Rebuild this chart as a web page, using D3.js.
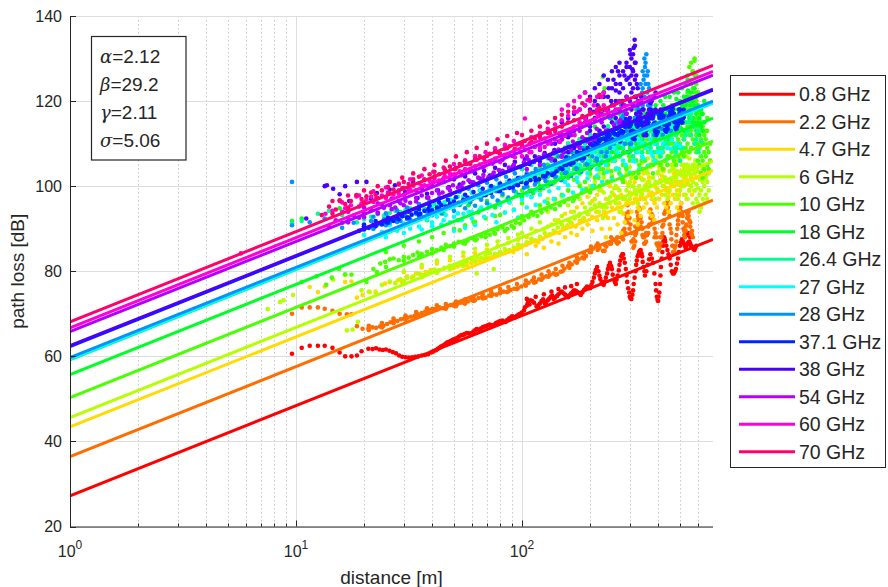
<!DOCTYPE html>
<html><head><meta charset="utf-8">
<script src="https://cdn.jsdelivr.net/npm/d3@7"></script>
<style>body{margin:0;background:#fff}svg{display:block}text{font-family:"Liberation Sans",Arial,Helvetica,sans-serif;fill:#262626}</style>
</head><body><svg id="c" width="888" height="587"></svg>
<script>
const freqLabels = ["0.8 GHz","2.2 GHz","4.7 GHz","6 GHz","10 GHz","18 GHz","26.4 GHz","27 GHz","28 GHz","37.1 GHz","38 GHz","54 GHz","60 GHz","70 GHz"];
const colors = ["#ff0000","#ff6d00","#ffdb00","#b6ff00","#49ff00","#00ff24","#00ff92","#00ffff","#0092ff","#0024ff","#4900ff","#b600ff","#ff00db","#ff006d"];
const lineAt1m = [27.2,36.4,43.4,45.6,50.3,55.7,59.2,59.4,59.7,62.3,62.5,65.8,66.7,68.1];
const lineAt700m = [87.5,96.7,103.7,105.9,110.6,116.0,119.5,119.7,120.0,122.6,122.8,126.1,127.0,128.4];
const yTicks = [20,40,60,80,100,120,140];
const xMajorTicks = [1,10,100];
const xTickExp = ["0","1","2"];
const paramNames = ["α","β","γ","σ"];
const paramValues = ["=2.12","=29.2","=2.11","=5.06"];

// measured points [distance, path loss]
const pts08 = [[9.6,60.6],[10.6,62],[11.5,62.5],[12.5,62.5],[13.4,62.5],[14.5,62],[15.6,60.9],[16.5,60],[17.6,60],[18.6,60.2],[19.5,61.2],[20.9,61.8],[21.8,61.7],[22.6,61.9],[23.4,61.6],[24.2,61.5],[25,61.6],[25.9,61.3],[26.8,61.0],[27.7,60.7],[28.6,60.2],[29.5,59.9],[30.5,59.8],[31.5,59.7],[32.6,59.8],[33.7,59.9],[34.8,60],[36,60.2],[37.2,60.3],[38.4,60.5],[39.7,60.9],[41,61.3],[42.4,61.8],[43.8,62.3],[45.3,62.7],[46.8,63.3],[48.4,63.6],[50,64],[51.7,64.3],[53.4,64.9],[55.2,65.1],[57,65.5],[59,65.3],[61,65.8],[63,66.4],[65,66.2],[67.2,66.9],[69.5,67.1],[71.8,67.5],[74.2,67.2],[76.7,67.8],[79.2,68.2],[81.9,68.4],[84.6,68.1],[87.5,68.9],[90.4,69.4],[93.4,69.2],[96.5,69.8],[99.8,70.3],[103,71.5],[106,72.5],[109,73.2],[113,72.6],[116,71.8],[120,72.4],[124,73.4],[128,72.8],[132,73.6],[136,74.3],[140,73.8],[145,74.6],[150,75.2],[155,74.5],[160,73.9],[165,74.8],[170,75.5],[176,75.1],[182,74.4],[188,75.6],[194,76.4],[200,76],[205,77.5],[210,79.5],[215,81],[220,79],[225,77.5],[230,76.8],[235,78.5],[240,80.5],[245,82],[250,80.5],[255,78],[260,77],[265,79],[270,81.5],[275,83.5],[280,84],[285,82],[290,79],[295,76],[300,74],[305,73.5],[310,75.5],[315,78.5],[320,81.5],[325,83.5],[330,84.5],[335,85],[340,83.5],[345,81],[350,79],[360,81.5],[370,84],[380,82],[390,77],[395,74],[400,73],[405,75],[410,79],[415,83],[420,86],[425,88],[430,87],[440,85],[450,83],[460,80],[470,79.5],[480,80.5],[490,83],[500,86],[510,87.5],[520,86.5],[530,85.5],[540,86.5],[550,87],[560,86],[570,85.5],[580,85],[590,86]];
const cols08 = [[40.3,61.1],[41.7,61.5],[43.1,62],[44.5,62.5],[46,63],[47.6,63.4],[49.2,63.8],[50.8,64.1],[52.5,64.6],[54.3,65],[56,65.3],[58,65.4],[60,65.5],[62,66.1],[64,66.3],[66,66.6],[68.3,67],[70.6,67.3],[73,67.3],[75.4,67.5],[78,68],[80.5,68.3],[83.2,68.2],[86,68.5],[89,69.1],[91.9,69.3],[95,69.5],[98.1,70],[102,70.8],[105,71.9,73.5],[108,72.2],[111,73],[115,74],[118,72],[122,73],[125,74.6],[126,72.5],[130,73.2],[134,74],[135,75.2],[138,73.5],[143,74.2],[145,75.8],[148,75],[153,74.8],[155,76.2],[158,74.2],[163,74.4],[165,76.5],[168,75.2],[173,75.4],[175,77],[179,74.8],[185,75],[191,76],[197,76.2],[203,76.8],[208,78.5],[212,80.3],[218,80],[222,78.2],[228,77],[233,77.6],[238,79.5],[242,81.3],[248,81.2],[252,79.2],[258,77.4],[262,78],[268,80.2],[272,82.5],[278,84],[282,83],[288,80.5],[292,77.5],[298,75],[302,73.6],[308,74.5],[312,77],[318,80],[322,82.5],[328,84],[332,84.8],[338,84.2],[342,82.2],[348,80],[355,80],[365,82.8],[375,83],[385,79.5],[392,75.5],[398,73.3],[402,74],[408,77],[412,81],[418,84.5],[422,87],[428,87.5],[435,86],[445,84],[455,81.5],[465,79.5],[475,80],[485,81.8],[495,84.5],[505,86.8],[515,87],[525,86],[535,86,88.5],[545,86.8,89],[555,86.5,88],[565,85.8],[575,85.2],[585,85.5]];
const pts22 = [[9.6,70],[10.6,71.5],[11.5,71.5],[12.5,71.5],[13.4,71.2],[14.5,70.7],[15.6,70],[16.8,69.9],[17.6,69.9],[18.6,67.1],[19.7,66.5],[20.9,66.5],[21.8,66.8],[22.6,66.7],[23.5,67],[24.4,67.2],[25.3,67.6],[26.2,68],[27.1,68.4],[28.1,68.3],[29.1,68.7],[30.1,68.9],[31.2,69.1],[32.3,69.3],[33.5,69.5],[34.7,69.9],[36,70.2],[37.3,70.5],[38.7,70.9],[40.1,71.2],[41.6,71.2],[43.1,71.5],[44.7,71.3],[46.4,71.6],[48.1,72],[49.9,71.9],[51.7,72.3],[53.6,72.6],[55.6,72.5],[57.6,72.9],[59.7,73.3],[61.9,73.2],[64.2,73.7],[66.6,74],[69,73.8],[71.6,74.3],[74.2,74.6],[77,74.5],[79.8,75],[82.8,75.2],[85.8,75.1],[89,75.6],[92.3,75.9],[95.7,76],[99.2,76.4],[103,76.9],[107,77.3],[111,77.8],[115,77.5],[119,78.1],[124,78.5],[128,78.8],[133,79.2],[138,79.5],[143,79.3],[148,79.9],[154,80.6],[160,81.2],[166,81.6],[172,82.3],[178,82.8],[185,83.2],[192,83.6],[199,84.5],[206,85.3],[213,85.9],[220,85.5],[228,84.8],[236,85.8],[244,86.5],[252,87.5],[260,87],[268,86.8],[276,88],[284,90],[290,92.5],[296,94],[302,91],[308,87],[314,86],[320,89],[326,93],[332,94.5],[338,91.5],[344,88],[350,86.5],[358,88.5],[366,91],[374,93.5],[382,92],[390,89],[398,86],[406,85.5],[414,88],[422,91],[430,94],[438,96],[446,94],[454,90],[462,86],[470,84],[478,86],[486,90],[494,93],[502,95],[510,93.5],[518,90],[526,88],[534,91],[542,94],[550,92],[560,89],[570,88]];
const cols22 = [[21,66.2,67.2],[24,66.8,67.8],[27,67.8,68.9],[30.5,68.6,69.6],[34,69.3,70.4],[38,70.3,71.3],[42,71,72],[46,71.2,72.3],[51,71.8,72.9],[56,72.4,73.4],[61,73,74],[67,73.6,74.6],[73,74.2,75.2],[80,74.8,75.8],[87,75.3,76.3],[95,75.8,77],[104,76.6,77.8],[113,77.3,78.5],[122,78,79.2],[131,78.7,80],[141,79.2,80.5],[151,80,81.3],[162,80.8,82],[175,82,83.2],[188,83,84.2],[202,84.5,85.8],[216,85,86.5],[232,84.8,86.2],[248,86.5,88],[264,86.5,88],[280,87.5,89.5],[287,89,91.5,93.5],[293,91.5,93.5,95.5],[299,90,92.5],[305,87,89],[311,85.5,87.5],[317,87,88.5,90.5],[323,90,92,94],[329,92.5,95],[335,90.5,92.5],[341,88.5,90],[347,86.5,88],[354,87,89],[362,89,90.5],[370,91,92.5,94.5],[378,91.5,93],[386,88,90],[394,86.5,88],[402,85,86.5],[410,86.5,88],[418,89,90.5],[426,92,93.5],[434,94.5,96],[442,95,96.5],[450,91,93],[458,87.5,89],[466,84.5,86],[474,84.5,85.5],[482,87,88.5],[490,91,92],[498,93.5,94.5],[506,94,96],[514,91.5,93],[522,88.5,89.5],[530,89.5,90.5],[538,92.5,93.5],[546,93,94],[555,90.5,91.5],[565,88.5,89.5]];
const pts47 = [[11.5,76.3],[12.5,75.1],[13.4,76.4],[16.5,77.5],[17.6,77.6],[18.6,73.8],[19.7,74.4],[21.2,75.1],[22.5,75.2],[24.8,77.1],[26,77.4],[28.3,77.9],[29.5,77.4],[31,78.8],[32.5,78.5],[34,79.5],[35.8,79.2],[37.5,79.8],[39.4,80.3],[41.3,80],[43,80.2],[45.2,80.6],[47.4,80.9],[49.7,80.7],[52,81.1],[54.5,81.3],[57,81.4],[59.6,81.9],[62.3,82.2],[65,82.6],[68,82.9],[71,83.1],[74,83.4],[77.3,83.9],[80.7,84.2],[84.2,84.3],[87.8,84.8],[91.5,84.5],[95.4,85.2],[99.5,85.6],[104,86.2],[108,86.7],[113,87.2],[118,86.8],[123,87.6],[128,88.3],[134,88.7],[140,89.4],[146,89],[152,90.1],[159,90.8],[166,91.2],[173,90.5],[180,91.8],[188,92.5],[196,93.4],[204,92.8],[213,94],[222,95.2],[231,94],[240,92.5],[250,95],[260,97.5],[270,96],[280,93.5],[290,96],[300,98.5],[310,100],[320,97],[330,94.5],[340,97],[350,99.5],[362,101],[374,98.5],[386,96],[398,99],[410,101.5],[422,103.5],[434,101],[446,98.5],[458,101],[470,103],[482,100.5],[494,98],[506,101],[518,103.5],[530,102],[545,100.5],[560,102.5],[575,104],[590,102]];
const cols47 = [[30,77.8,79.8],[36,79,80.9],[42,80,81.8],[48,80.8,82.6],[55,81.6,83.5],[62,82.5,84.3],[70,83.3,85.1],[78,84,85.9],[87,84.8,86.7],[96,85.5,87.4],[105,84,88],[115,86,89.5],[125,85.5,90],[135,87,91],[145,86.5,92],[155,88,93.5],[165,89,94],[175,88.5,95],[185,90,96],[195,91,97.5],[205,89.5,96.5],[215,92,98],[225,90,95.5,99],[235,88,93,97],[245,90,96,100],[255,92.5,98],[265,91,95,99.5],[275,89,94,98],[285,91.5,97,101],[295,93,96.5,100.5],[305,94,98,102],[315,92,97,101],[325,91,95,99],[335,93,97.5,102],[345,95,99,103],[355,96,100.5,104],[365,94,98,102],[375,93,97],[385,92,96.5,100],[395,95,99.5],[405,97,101,104.5],[415,98,102.5],[425,96,100,104],[435,95,99],[445,94,97.5,101],[455,96,100.5],[465,98,102,105],[475,97,101],[485,95,99,103],[495,94,98],[505,96,100,103.5],[520,98,102],[535,97,100.5,104],[550,99,103],[565,98,101.5],[580,99,103,105]];
const pts6 = [[7.5,71.1],[8.5,72.8],[8.8,73.2],[9.7,74.4],[14.6,78],[16.5,79.1],[16.8,66.1],[17.8,66.3],[18.8,68.1],[19.5,75.5],[21,75.2],[22.6,74.8],[24,76.8],[26,77.6],[27.5,77.2],[29,78.1],[31,78.4],[33,78.8],[35,79.4],[37,79.1],[39,79.8],[41,80.4],[43,80.2],[45.5,80.8],[48,81.3],[50.5,81.1],[53,81.7],[55,82.2],[57,82.2],[60,82.9],[63,79.5],[63,83.3],[66,83.1],[69,83.8],[72,84.2],[75,80.5],[76,84.1],[80,84.6],[84,85.2],[88,85],[92,85.6],[96,86.3],[100,86.1],[105,86.8],[110,87.6],[115,87.2],[120,88.1],[126,89],[132,88.6],[138,89.5],[144,90.3],[150,91],[157,90.4],[164,91.5],[171,92.4],[178,93],[186,92.2],[194,93.5],[202,94.6],[210,95.5],[219,94],[228,92.5],[237,95],[246,97.5],[256,99.5],[266,97.5],[276,95],[286,97],[296,100],[306,102],[316,99],[326,96],[336,98.5],[346,101.5],[356,103.5],[366,101],[378,98],[390,100.5],[402,103.5],[414,105],[426,102],[438,99.5],[450,101.5],[462,104],[474,106],[486,103.5],[498,100.5],[510,102.5],[522,105],[534,107],[546,104.5],[558,102],[570,104],[585,106],[600,103.5],[615,101.5],[630,104]];
const cols6 = [[30,77.5,80],[36,78.6,81.5],[42,79.6,82.5],[48,80.5,83.4],[55,81.3,84.4],[62,82.2,85.3],[70,83,86.2],[78,83.8,87],[87,84.6,87.8],[96,85.4,88.6],[100,89,92],[110,90,93.5],[120,91.5,95],[130,90.5,94,97],[140,92,96],[150,93,97.5],[160,92,95.5,99],[170,94,98],[180,93.5,97,100.5],[190,95,99],[200,96,100,102.5],[210,97,101],[220,96,99,103],[230,95,98.5,102],[240,97,101,104],[250,98.5,102.5],[260,96,100,104],[270,94,99,103],[280,97,101.5,105],[290,99,103],[300,97,101,104.5],[310,96,100,103],[320,98,102,106],[330,100,104],[340,98,101.5,105.5],[350,97,100,104],[360,99,103,106.5],[370,100,104.5],[380,98,102,106],[390,97,101],[400,99,103,107],[410,101,105],[420,100,104,108],[430,98,102,106],[440,97,101,105],[450,99,103.5],[460,101,105,108.5],[470,100,104],[480,98,102,106],[490,97,101],[500,99,103,107],[510,101,105],[520,100,104,108],[530,98,102.5],[540,97,101,105],[550,99,103,106.5],[560,100,104],[570,96,101,105],[580,95,99,103],[590,97,100.5,104.5],[600,96,99.5],[610,94,98,102],[620,95,99,103],[630,97,101],[640,96,100,104],[650,98,102],[660,97,101],[670,99,103]];
const pts10 = [[10.6,77.5],[12.3,78.8],[13.6,76.8],[14.4,78.5],[15.5,80.5],[16.5,79.3],[17.6,79.2],[20.5,77.5],[22,80.5],[22.8,79.8],[23.6,81.8],[24.8,82.2],[26,82.8],[27,83],[28.5,82.6],[30,83.4],[31.5,83.2],[33,83.8],[34.5,84.4],[36,84.1],[38,84.6],[40,85.2],[42,85],[44,85.6],[46,86.2],[48,85.9],[50,86.5],[53,89.6],[52.5,86.9],[55,86.6],[57.5,87.2],[60,87.8],[61,91.6],[63,87.5],[66,88.2],[69,88.9],[72,88.6],[75,89.2],[78,89.9],[80,93.2],[82,90.3],[86,90],[90,90.7],[94,91.4],[98,91.2],[102,92],[107,92.7],[112,93.3],[117,93],[122,93.8],[128,94.5],[134,95],[140,94.6],[147,95.5],[154,96.3],[161,97],[168,96.5],[176,97.5],[184,98.5],[192,99.3],[200,98.5],[209,100],[218,102],[228,104],[228,125.7],[232,123],[225,118],[238,101],[248,103.5],[258,106],[268,104],[278,101.5],[288,104.5],[298,107],[308,109],[318,106],[328,103],[338,106],[348,109],[358,111],[368,108],[380,105],[392,108],[404,111],[416,113],[428,110],[440,107],[452,110],[464,113],[476,115.5],[488,112.5],[500,109],[512,112],[524,115],[536,118],[548,121],[560,124],[570,127],[580,129.5],[590,126],[600,122],[610,118],[620,114],[632,110],[645,113],[660,116]];
const cols10 = [[25,81,84.5],[30,82.5,86],[35,83.5,87],[40,84.2,88],[45,85,89],[50,85.8,90],[56,86.5,90.8],[62,87.3,91.6],[69,88,92.4],[76,88.8,93],[84,89.5,93.8],[92,90.2,94.5],[100,93,96,99],[110,94,97.5],[120,95.5,99,102],[130,96,100],[140,97,101,104],[150,98,102],[160,99,103,106],[170,97,101.5,105],[180,100,104],[190,101,105,108],[200,99,103,107],[210,102,106],[220,100,104,108,112],[230,103,107,117,121],[240,101,105,109],[250,102,106,110],[260,104,108,112],[270,103,107,111],[280,101,105,109],[290,104,108,112],[300,106,110],[310,103,107,111],[320,102,106,110],[330,105,109,113],[340,104,108],[350,106,110,114],[360,108,112],[370,105,109,113],[380,103,107,111],[390,106,110,114],[400,108,112],[410,105,109,113],[420,104,108,112],[430,106,110,115],[440,105,109],[450,107,111,115],[460,108,112,116],[470,106,110,114],[480,105,109,113],[490,107,111,115],[500,106,110,114,118],[510,108,112,116],[520,107,111,115,119],[530,109,113,117,121],[540,110,114,118,122,126],[550,108,112,116,120,124,128],[560,109,113,117,121,125,129],[570,111,115,119,123,127],[580,110,114,118,122,126,130],[590,108,112,116,120,124],[600,106,110,114,118,122],[610,105,109,113,117],[620,103,107,111,115],[630,102,106,110,114],[640,104,108,112],[650,103,107,111],[660,105,109,113],[670,104,108],[680,106,110]];
const pts18 = [[9.6,91.8],[10.6,92.4],[15.6,94.8],[17.2,94.5],[20,92.8],[38,92],[45,93.5],[52,92],[58,95.5],[64,93.8],[70,96.5],[76,95],[82,97.8],[88,96.2],[94,98.6],[100,97.5],[106,99.8],[112,98.4],[118,101],[124,99.5],[130,102.2],[137,100.6],[144,103.5],[151,101.8],[158,104.8],[166,103],[174,106],[182,104.2],[190,107.5],[198,105.5],[207,109],[216,107],[225,111],[234,108.5],[243,113],[252,110],[262,115],[272,112],[282,117],[292,113.5],[302,110],[312,114],[322,118],[332,115],[342,111],[352,114.5],[362,117.5],[374,114],[386,110.5],[398,113],[410,116.5],[422,119],[434,115.5],[446,112],[458,115],[470,118],[482,120.5],[494,117],[506,113.5],[518,116],[530,119.5],[542,122.5],[554,119],[566,115],[578,118],[590,121],[602,118],[614,114.5],[626,117],[640,120]];
const cols18 = [[110,99,103],[120,100,104.5],[130,101,105],[140,102,106.5],[150,103,107],[160,102,106,110],[170,104,108],[180,103,107,111],[190,105,109],[200,104,108,112],[210,106,110,114],[220,105,109,113,118],[230,107,111,116,122],[240,106,110,114],[250,108,112,116],[260,107,111,115],[270,109,113,117],[280,108,112,116],[290,110,114,118],[300,109,113],[310,111,115,119],[320,110,114,118],[330,112,116],[340,111,115,119],[350,113,117],[360,112,116,120],[370,110,114,118],[380,112,116],[390,111,115,119],[400,113,117],[410,112,116,120],[420,114,118],[430,113,117,121],[440,111,115],[450,113,117,121],[460,115,119],[470,114,118,122],[480,112,116],[490,114,118,122],[500,116,120],[510,115,119,123],[520,113,117,121],[530,115,119,124],[540,117,121,125],[550,116,120],[560,114,118,122],[570,116,120],[580,115,119,123],[590,113,117],[600,115,119],[610,112,116],[620,114,118],[630,113,117],[640,115,119]];
const pts264 = [[9.6,91.2],[10.6,91.8],[12.5,93.5],[14,94.2],[16,93.2],[18.6,91.5],[20,92.2],[21.5,92.8],[23,93.4],[24.5,93.1],[26,93.7],[27.5,94.2],[29,93.9],[30.5,94.4],[32,94.8],[33.5,94.5],[35,95],[37,94.7],[39,95.3],[41,95.8],[43,95.5],[45.5,96.2],[48,96.8],[52,97.5],[56,97],[60,98.4],[65,99],[70,98.5],[75,99.8],[80,100.5],[86,100],[92,101.4],[98,102],[105,101.5],[112,103],[120,103.8],[128,103.2],[136,104.5],[145,105.2],[155,104.6],[165,106],[175,107],[186,106.2],[198,107.8],[210,109],[222,108],[235,110],[248,111.5],[262,109.5],[276,112],[290,114],[305,111],[320,108],[335,111],[350,114],[365,116],[380,113],[395,110],[410,107],[425,110],[440,113],[455,116],[470,113],[485,109],[500,106],[515,109],[530,112],[545,115],[560,117],[575,114],[590,111],[605,108],[620,110.5]];
const cols264 = [[100,101,104],[110,102,105],[120,103,106],[130,102.5,106.5],[140,104,107.5],[150,105,108],[160,104,107,110],[170,106,109],[180,105,108,111],[190,107,110],[200,106,109,112],[210,108,111],[220,107,110,113],[230,109,112],[240,108,111,114],[250,110,113],[260,109,112,115],[270,107,110,114],[280,109,112,116],[290,111,115],[300,108,112,116],[310,107,111,114],[320,109,113],[330,110,114,117],[340,108,112],[350,110,113,116],[360,112,115],[370,109,113,116],[380,108,112],[390,110,114,117],[400,109,112],[410,107,111,114],[420,109,113],[430,111,115],[440,110,114],[450,112,116],[460,111,114],[470,109,113],[480,108,112],[490,110,114],[500,109,113],[520,111,115],[540,113,117],[560,112,116],[580,110,114],[600,109,113]];
const pts27 = [[20,88.5],[22,90],[24,89.2],[26,90.8],[28,89.5],[30,91.2],[32,90],[34,91.8],[36,89.8],[38,92.2],[40,90.6],[42,92.8],[44,91],[46,93.2],[48,91.5],[50,89.5],[52,93.6],[54,92],[56,90.2],[58,94],[60,92.4],[62,90.8],[65,94.5],[68,92.8],[71,95],[74,93.2],[77,91.5],[80,95.6],[84,93.8],[88,96.2],[92,94.4],[96,92.6],[100,96.8],[105,95],[110,97.4],[115,95.6],[120,98],[126,96.4],[132,98.8],[138,97],[145,99.5],[152,97.8],[160,100.2],[168,98.5],[176,101],[185,99.2],[195,101.8],[205,100],[215,102.5],[226,101],[238,103.4],[250,101.6],[262,104.2],[275,102.5],[288,105],[300,103.2],[315,105.8],[330,104],[345,106.5],[360,104.8],[378,107.2],[396,105.5],[415,108],[435,106.2],[455,108.8],[475,107],[500,109.5]];
const cols27 = [[25,88,92],[30,89,93.5],[35,90.5,94],[40,91.5,95],[45,92,96],[50,92.8,96.8],[55,93.5,97.5],[60,94,98.5],[66,95,99],[72,95.6,99.8],[79,96.4,100.5],[86,97,101],[94,97.8,101.6],[105,98,101],[115,99,102.5],[125,100,103],[135,101,104],[145,102,105],[155,101,104,107],[165,103,106],[175,102,105,108],[185,104,107],[195,103,106,109],[205,105,108],[215,104,107,110],[225,106,109],[235,105,108],[245,107,110],[255,106,109],[265,104,108,111],[280,106,110],[295,108,111],[310,106,109,112],[325,108,111],[340,107,110,113],[355,109,112],[370,108,111],[385,106,110],[400,108,112],[420,110,113],[440,109,112],[460,111,114],[480,110,113]];
const pts28 = [[9.6,101],[9.6,90.8],[11.5,91.5],[13.4,92.4],[16,90.2],[18,91.4],[20,90.6],[21.5,91.8],[23,91],[24.5,92.2],[26,91.4],[27.5,92.6],[29,91.8],[30.5,93],[32,92.2],[34,93.5],[36,92.7],[38,94],[40,93.2],[42,94.5],[44,93.6],[47,95],[50,94.2],[53,95.6],[56,94.8],[59,96.2],[62,95.4],[66,96.8],[70,96],[74,97.5],[78,96.6],[82,98.2],[87,97.3],[92,98.9],[97,98],[102,99.6],[108,98.8],[114,100.4],[120,99.6],[127,101.2],[134,100.5],[141,102.2],[149,101.4],[157,103.2],[165,102.4],[174,104.2],[183,103.4],[193,105.2],[203,104.5],[214,106.5],[225,105.5],[237,108],[249,110],[260,112],[270,114.5],[280,116.5],[290,113],[300,110],[310,112.5],[320,115],[330,118],[340,122],[345,125],[350,128],[355,131],[360,127],[365,123],[370,119],[380,116],[392,113],[404,116],[416,113.5],[430,116.5],[445,118],[460,115.5]];
const cols28 = [[22,90,92.8],[25,90.8,93.6],[28,91.6,94.3],[31,92.3,95],[35,93,95.8],[39,93.8,96.5],[43,94.5,97.2],[48,95.2,98],[53,96,98.7],[58,96.7,99.4],[64,97.4,100.2],[70,98.2,100.8],[77,98.8,101.6],[85,99.6,102.2],[93,100.3,103],[105,100,103],[115,101,104],[125,102,105],[135,103,106],[145,104,107],[155,103,106,109],[165,105,108],[175,104,107,110],[185,106,109],[195,105,108,111],[205,107,110],[215,106,109,112],[225,108,111],[235,107,110,113],[245,109,112,116],[255,110,113,117],[265,111,115,118],[275,112,116,119],[285,110,114,117],[295,108,112,115],[305,110,113],[315,112,116],[325,114,118],[335,116,120,124],[342,119,123,127],[348,121,126,130],[352,124,129],[358,122,126],[362,119,124],[368,116,121],[375,114,118],[385,112,115],[400,114,117],[420,112,116],[440,115,118],[455,113,117]];
const pts371 = [[19,89.5],[20,90.5],[21,90.2],[22,90.9],[23,91.3],[24,91],[25,91.6],[26,92.1],[27,91.8],[28,92.4],[29.5,92.9],[31,92.6],[32.5,93.3],[34,93.8],[35.5,93.5],[37,94.2],[38.5,94.6],[40,94.3],[42,95],[44,95.5],[46,95.2],[48,95.9],[50,96.4],[52.5,96.1],[55,96.8],[57.5,97.3],[60,97],[63,97.7],[66,98.2],[69,97.9],[72,98.6],[75.5,99.1],[79,98.8],[83,99.5],[87,100],[91,99.7],[95,100.4],[99,101],[104,100.6],[109,101.4],[114,102],[119,101.6],[124,102.4],[130,103],[136,102.6],[142,103.5],[148,104.2],[154,105],[160,106],[166,105.5],[172,106.5],[178,107.2],[185,106.8],[192,107.8],[199,108.5],[206,109.5],[213,110],[220,110.5],[227,109.5],[234,111],[241,111.5],[248,110.5],[254,112.5],[260,113.5],[266,112],[272,110.5],[278,112.5],[285,114],[292,115],[300,114],[306,112.5],[312,111.2],[318,112],[324,114],[330,115.5],[336,114.5],[342,113],[348,112],[354,113],[360,114.5],[366,116],[372,117],[378,116],[384,114],[390,112.8],[396,112.5],[402,114],[408,116],[414,117],[420,116],[426,114.5],[432,113],[438,113.5],[444,114.5],[450,115.5],[456,116.5],[462,117.5],[468,116.5],[474,115],[480,113.5],[486,114],[492,115.5],[498,117],[504,116.2],[510,115],[516,116],[522,117]];
const cols371 = [[20,89.8,91],[22.5,90.6,91.8],[25.5,91.4,92.6],[28.5,92.2,93.4],[31.5,92.6,94],[35,93.3,94.6],[39,94,95.4],[43,94.7,96.2],[47,95.2,96.8],[51,95.8,97.4],[56,96.5,98],[61,97.2,98.6],[67,97.8,99.4],[73,98.4,100],[80,99,100.6],[88,99.6,101.3],[96,100.2,101.9],[105,100.8,102.6],[115,101.4,103.2],[127,102.3,104],[139,103,104.8],[151,104,105.6],[157,105,106.8],[163,105.2,106.5],[169,105.5,107],[175,106.4,108],[181,106.5,107.8],[188,106.6,108.4],[195,107.5,109],[202,108.5,109.8],[209,109.2,110.6],[216,109.6,111],[223,109.4,111],[230,109.8,111.2],[237,110.5,112],[244,110.5,112],[251,111,113],[257,112.3,114],[263,112.2,113.5],[269,110.8,112.5],[275,111,113],[281,112.8,114.5],[288,114,115.8],[296,114,115.5],[303,112.8,114.5],[309,111.2,113],[315,111,112.8],[321,112.5,114.5],[327,114.5,116.2],[333,114.5,116],[339,113.2,115],[345,112,113.8],[351,112,114],[357,113.5,115.3],[363,115,117],[369,116,118],[375,116,117.8],[381,114.5,116.5],[387,113,114.8],[393,112,114],[399,112.8,114.6],[405,114.5,116.6],[411,116,118],[417,116,117.8],[423,114.8,116.5],[429,113.2,115],[435,112.8,114.4],[441,113.5,115.5],[447,114.6,116.4],[453,115.5,117.4],[459,116.5,118.4],[465,116.5,118.2],[471,115.3,117],[477,113.8,115.5],[483,113.2,115],[489,114.5,116.4],[495,116,118],[501,116.2,118],[507,115,117],[513,115,117],[519,116.2,118]];
const pts38 = [[11.1,92.4],[13.4,100],[13.7,100.2],[14.6,99.4],[15.6,98.1],[16.5,100],[17.2,96.5],[18.6,101],[19.5,95.5],[20.5,101],[21.5,97],[22.8,98.4],[24,95.8],[26,99.2],[27.4,100.2],[28.5,96.5],[30.4,98.7],[33,101],[34.5,97.2],[36,99.5],[38,98.2],[40,100.3],[42.5,99],[45,101],[47.5,99.8],[50,101.6],[53,100.4],[56,102.3],[59,101],[62,103],[65,101.8],[68,103.6],[72,102.5],[76,104.3],[80,103.1],[84,105],[88,103.8],[93,105.7],[98,104.5],[103,106.4],[108,105.2],[114,107],[120,105.8],[126,107.8],[132,106.6],[139,108.5],[146,110.5],[153,108],[160,111.5],[168,113],[176,110],[184,114],[192,116],[200,113],[208,117.5],[216,119],[224,115.5],[230,121],[236,118],[242,123],[248,120],[254,125],[260,122.5],[266,127],[272,124],[278,120],[284,126],[290,129],[296,125.5],[302,131],[308,127.5],[312,132.5],[315,134.4],[318,129],[322,124],[326,120],[330,117.5],[336,121],[342,118],[350,115],[360,117],[370,119.5],[385,121]];
const cols38 = [[140,106,110,113],[150,107,111,115],[160,108,112,116],[170,109,113,117],[180,110,114,118],[190,111,115,119,122],[200,110,114,118,121],[210,112,116,120,123],[220,113,117,121,124],[230,114,118,122,126],[240,113,117,121,125],[250,115,119,123,127],[260,116,120,124,128],[270,114,118,122,126,129],[280,115,119,123,127],[290,117,121,125,128],[300,116,120,124,128,132],[305,118,122,126,130],[310,119,123,127,131],[316,121,125,129,133],[320,117,121,126],[325,115,119,123],[335,113,117,120],[345,114,118],[355,112,116],[365,114,118],[375,116,120],[390,118,122]];
const pts54 = [[14,90.5],[15,92],[16,91.4],[17,92.5],[18,93.1],[19,92.6],[20,93.6],[21.5,94.3],[23,93.8],[24.5,94.9],[26,95.5],[27.5,95],[29,96],[30.5,96.6],[32,96.1],[34,97.2],[36,97.8],[38,97.3],[40,98.4],[42,99],[44.5,98.5],[47,99.6],[49.5,100.2],[52,99.7],[55,100.8],[58,101.4],[61,100.9],[64,102],[67.5,102.6],[71,102.1],[75,103.2],[79,103.8],[83,103.3],[87.5,104.4],[92,105],[97,104.5],[102,105.6],[107,106.2],[113,105.7],[119,106.8],[125,107.4],[131,106.9],[138,108],[145,108.6],[152,108.1],[160,109.2],[168,110.5],[176,109.5],[185,111.5],[194,112.5],[204,111],[214,113.5],[225,115],[236,113],[248,116.5],[260,118],[272,115.5],[285,119]];
const cols54 = [[17,91.5,94],[20,92.7,95],[23,93.6,96],[26.5,94.6,97.1],[30,95.5,98],[34,96.4,99],[38.5,97.3,99.9],[43,98.2,100.8],[48,99,101.7],[54,100,102.6],[60,100.9,103.5],[67,101.8,104.4],[74,102.7,105.3],[82,103.6,106.2],[91,104.6,107.1],[105,104,107],[120,105,108.5],[135,106.5,110],[150,107,111],[165,108.5,112],[180,109,113],[195,110.5,114.5],[210,111,115.5],[225,112.5,117],[240,113,118],[255,114.5,119],[270,115,120],[290,117,121]];
const pts60 = [[5.7,84.2],[13.5,93.5],[14.5,94.2],[15.6,96.5],[16.5,94.8],[17.5,95.5],[18.5,97.6],[19.5,96],[20.5,96.8],[21.5,97.5],[22.5,97],[24,97.8],[25.5,98.5],[27,98],[28.5,99],[30,99.6],[31.5,99.1],[33,100.1],[35,100.7],[37,100.2],[39,101.3],[41,101.8],[43,101.3],[45.5,102.4],[48,102.9],[50.5,102.4],[53,103.5],[56,104],[59,103.5],[62,104.6],[65,105.1],[68,104.6],[72,105.7],[76,106.3],[80,105.7],[84,106.8],[88,107.4],[93,106.8],[98,108],[103,115.9],[103,108.5],[108,108],[114,109.2],[120,109.8],[126,109.2],[133,110.4],[140,111],[147,110.4],[155,111.8],[163,113],[171,112],[175,117.5],[180,114.5],[190,116],[195,120.2],[200,115],[208,119],[215,117],[225,121],[235,118]];
const cols60 = [[16,94,96.2],[19,95.2,97.8],[22,96.3,98.8],[25,97.2,99.7],[28.5,98.2,100.6],[32,99.2,101.6],[36,100.1,102.5],[40.5,101,103.4],[45,101.9,104.4],[50,102.8,105.2],[56,103.7,106.1],[62,104.6,107.1],[69,105.6,108],[76,106.5,108.9],[84,107.4,109.7],[92,108.2,110.6],[100,107,110],[110,108,111.5],[120,109,112.5],[130,110,113.5],[140,111,114.5],[150,112,115.5,118],[160,113,116.5,119],[170,114,117.5,120],[180,115,118,121],[190,116,119,122],[200,117,120],[215,118,121],[230,119,122]];
const pts70 = [[13,93.2],[14,95.2],[15,94.5],[15.6,96.7],[16.5,95.8],[17.5,96.5],[18.5,97.9],[19.5,97],[20.5,97.6],[21.5,98.5],[22.5,98],[24,99],[25.5,99.8],[27,99.2],[28.5,100.4],[30,101],[31.5,100.5],[33,101.6],[35,102.2],[37,101.6],[39,102.8],[41,103.4],[43,102.8],[45.5,104],[48,104.6],[50.5,104],[53,105.2],[56,105.8],[59,105.2],[62,106.4],[65,107],[68,106.4],[72,107.6],[76,108.2],[80,107.6],[84,108.8],[88,109.4],[93,108.8],[98,110],[103,110.6],[108,110],[114,111.2],[120,111.8],[126,111.2],[133,112.5],[140,113],[147,112.2]];
const cols70 = [[14.5,93.5,96.5],[17,95,97.8],[20,96.2,99],[23,97.2,100],[26,98.3,101],[29.5,99.5,102],[33,100.4,103],[37,101.4,104],[41,102.3,105],[46,103.4,106],[51,104.3,107],[57,105.2,108],[63,106.2,109],[70,107.1,110],[78,108,111],[86,108.9,111.8],[95,109.8,112.5],[100,109.5,112],[110,110.5,113],[120,111.5,114],[130,112.5,115],[140,113.5,116],[150,114,116.8],[160,115,117.5],[170,115.5,118.5],[185,116.5,119.5],[200,117.5,120.5],[220,118.5,121.5]];

const seriesPoints = [pts08,pts22,pts47,pts6,pts10,pts18,pts264,pts27,pts28,pts371,pts38,pts54,pts60,pts70];
const seriesCols = [cols08,cols22,cols47,cols6,cols10,cols18,cols264,cols27,cols28,cols371,cols38,cols54,cols60,cols70];
const expand = cols => cols.flatMap(c => c.slice(1).map(v => [c[0], v]));

const svg = d3.select("#c");
const L=70, R=713, T=16, B=526.5;
const x = d3.scaleLog().domain([1,700]).range([L,R]);
const y = d3.scaleLinear().domain([20,140]).range([B,T]);
const minorTicks = x.ticks().filter(v => v < 700 && !xMajorTicks.includes(v));

// grid
const g = svg.append("g");
g.selectAll(".mg").data(minorTicks).join("line")
  .attr("x1",d=>Math.round(x(d))+0.5).attr("x2",d=>Math.round(x(d))+0.5).attr("y1",T).attr("y2",B)
  .attr("stroke","#c9c9c9").attr("stroke-width",1).attr("stroke-dasharray","1.5,2.5");
g.selectAll(".Mg").data(xMajorTicks.slice(1)).join("line")
  .attr("x1",d=>Math.round(x(d))+0.5).attr("x2",d=>Math.round(x(d))+0.5).attr("y1",T).attr("y2",B)
  .attr("stroke","#dedede").attr("stroke-width",1);
g.selectAll(".yg").data(yTicks).join("line")
  .attr("x1",L).attr("x2",R).attr("y1",d=>Math.round(y(d))+0.5).attr("y2",d=>Math.round(y(d))+0.5)
  .attr("stroke","#dedede").attr("stroke-width",1);

svg.append("clipPath").attr("id","clip").append("rect").attr("x",L).attr("y",T-2).attr("width",R-L).attr("height",B-T+2);
const plot = svg.append("g").attr("clip-path","url(#clip)");

seriesPoints.forEach((pts,i)=>{
  const all = pts.concat(expand(seriesCols[i]));
  plot.append("g").selectAll("circle").data(all).join("circle")
    .attr("cx",d=>x(d[0])).attr("cy",d=>y(d[1])).attr("r",2.3).attr("fill",colors[i]);
});
freqLabels.forEach((f,i)=>{
  plot.append("line").attr("x1",x(1)).attr("x2",x(700)).attr("y1",y(lineAt1m[i])).attr("y2",y(lineAt700m[i]))
    .attr("stroke",colors[i]).attr("stroke-width",3);
});

// axes
const ax = svg.append("g").attr("stroke","#262626").attr("stroke-width",1);
ax.append("line").attr("x1",L+0.5).attr("x2",L+0.5).attr("y1",T).attr("y2",B+0.5);
ax.append("line").attr("x1",L).attr("x2",R).attr("y1",B+0.5).attr("y2",B+0.5);
yTicks.forEach(v=>{ax.append("line").attr("x1",L).attr("x2",L+6).attr("y1",Math.round(y(v))+0.5).attr("y2",Math.round(y(v))+0.5);});
xMajorTicks.forEach(v=>{ax.append("line").attr("x1",Math.round(x(v))+0.5).attr("x2",Math.round(x(v))+0.5).attr("y1",B).attr("y2",B-6);});
minorTicks.forEach(v=>{ax.append("line").attr("x1",Math.round(x(v))+0.5).attr("x2",Math.round(x(v))+0.5).attr("y1",B).attr("y2",B-3);});

yTicks.forEach(v=>{
  svg.append("text").attr("x",62).attr("y",y(v)+5.8).attr("text-anchor","end").attr("font-size",16).text(v);
});
xMajorTicks.forEach((v,i)=>{
  const t = svg.append("text").attr("x",x(v)).attr("y",557).attr("text-anchor","middle").attr("font-size",16);
  t.append("tspan").text("10");
  t.append("tspan").attr("dy",-8.5).attr("font-size",12).text(xTickExp[i]);
});
svg.append("text").attr("x",(L+R)/2).attr("y",584).attr("text-anchor","middle").attr("font-size",19).text("distance [m]");
svg.append("text").attr("transform",`translate(24,${(T+B)/2}) rotate(-90)`).attr("text-anchor","middle").attr("font-size",19).text("path loss [dB]");

// parameter box
svg.append("rect").attr("x",91.5).attr("y",36.5).attr("width",94.5).attr("height",123.5).attr("fill","#fff").attr("stroke","#262626").attr("stroke-width",1.2);
paramNames.forEach((p,i)=>{
  const t = svg.append("text").attr("x",100).attr("y",63+i*28).attr("font-size",19);
  t.append("tspan").attr("font-family","'DejaVu Serif',serif").attr("font-style","italic").attr("font-size",18).text(p);
  t.append("tspan").text(paramValues[i]);
});

// legend
const lg = svg.append("g");
lg.append("rect").attr("x",730.5).attr("y",75.5).attr("width",155).attr("height",392).attr("fill","#fff").attr("stroke","#262626").attr("stroke-width",1);
freqLabels.forEach((f,i)=>{
  const cy = 94.3 + i*27.5;
  lg.append("line").attr("x1",739).attr("x2",795).attr("y1",cy).attr("y2",cy).attr("stroke",colors[i]).attr("stroke-width",3);
  lg.append("text").attr("x",799).attr("y",cy+6.8).attr("font-size",19.5).text(f);
});
</script></body></html>
